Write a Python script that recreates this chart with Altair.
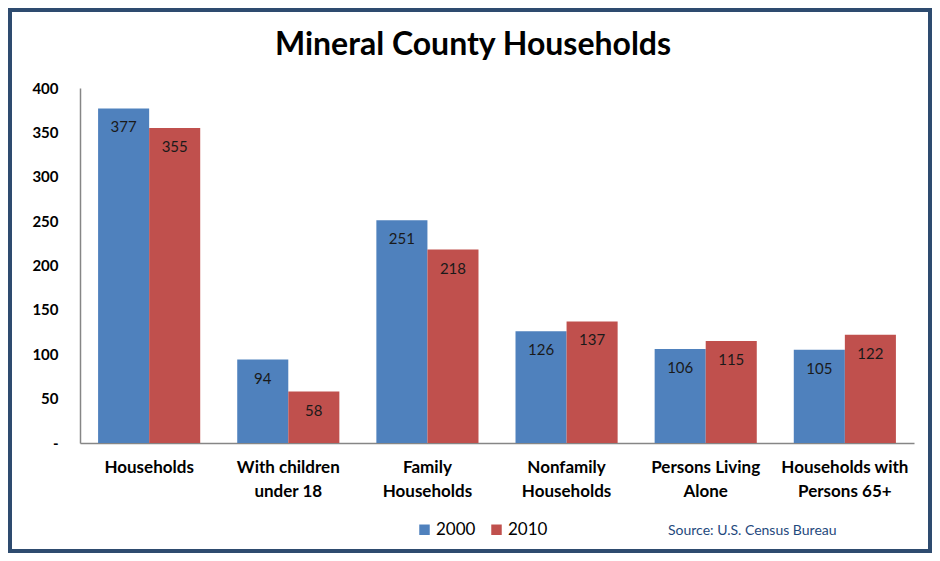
import altair as alt
import pandas as pd

categories = ["Households", "With children\nunder 18", "Family\nHouseholds",
              "Nonfamily\nHouseholds", "Persons Living\nAlone", "Households with\nPersons 65+"]
years = ["2000", "2010"]
v2000 = [377, 94, 251, 126, 106, 105]
v2010 = [355, 58, 218, 137, 115, 122]
colors = ["#4F81BD", "#C0504D"]
y_ticks = [0, 50, 100, 150, 200, 250, 300, 350, 400]
title_text = "Mineral County Households"
source_text = "Source: U.S. Census Bureau"

rows = []
for c, a, b in zip(categories, v2000, v2010):
    rows.append({"cat": c, "year": "2000", "value": a})
    rows.append({"cat": c, "year": "2010", "value": b})
df = pd.DataFrame(rows)

FONT = "Lato"
W, H = 834, 355
PL, PT, PR, PB = 72, 80, 18, 110

x_enc = alt.X("cat:N", sort=categories,
              scale=alt.Scale(paddingInner=0.266, paddingOuter=0.13),
              axis=alt.Axis(title=None, labelAngle=0, labelFontWeight="bold", labelFontSize=17,
                            labelFont=FONT, labelColor="#000000", ticks=False,
                            domainColor="#868686", domainWidth=1.5, labelPadding=16,
                            labelLineHeight=24, labelExpr="split(datum.label, '\\n')"))
xo_enc = alt.XOffset("year:N", sort=years, scale=alt.Scale(paddingInner=0, paddingOuter=0))
y_enc = alt.Y("value:Q", scale=alt.Scale(domain=[0, 400], nice=False),
              axis=alt.Axis(title=None, values=y_ticks, grid=False, ticks=False,
                            labelExpr="datum.value == 0 ? '-' : datum.label",
                            labelFontWeight="bold", labelFontSize=15, labelFont=FONT,
                            labelColor="#000000", labelPadding=22,
                            domainColor="#868686", domainWidth=1.5))

base = alt.Chart(df)
bars = base.mark_bar().encode(
    x=x_enc, xOffset=xo_enc, y=y_enc,
    color=alt.Color("year:N", sort=years, scale=alt.Scale(domain=years, range=colors),
                    legend=alt.Legend(orient="none", legendX=336, legendY=433,
                                      direction="horizontal", title=None,
                                      symbolType="square", symbolSize=110,
                                      symbolStrokeWidth=0, labelFontSize=17,
                                      labelFont=FONT, labelColor="#000000",
                                      labelOffset=3, columnPadding=12)),
)
labels = base.mark_text(dy=19, baseline="middle", fontSize=15, font=FONT,
                        color="#1a1a1a").encode(
    x=alt.X("cat:N", sort=categories), xOffset=alt.XOffset("year:N", sort=years),
    y="value:Q", text="value:Q")

one = pd.DataFrame({"t": [source_text], "title": [title_text]})
source = alt.Chart(one).mark_text(align="left", baseline="middle", fontSize=14, font=FONT,
                                  color="#1F497D").encode(
    x=alt.value(588), y=alt.value(443), text="t:N")
title = alt.Chart(one).mark_text(align="center", baseline="middle", fontSize=32, font=FONT,
                                 fontWeight="bold", color="#000000").encode(
    x=alt.value(393), y=alt.value(-43), text="title:N")
frame = alt.Chart(one).mark_rect(fill=None, stroke="#2E4B6F", strokeWidth=4).encode(
    x=alt.value(-PL + 2), x2=alt.value(W + PR - 2),
    y=alt.value(-PT + 2), y2=alt.value(H + PB - 2))

chart = alt.layer(bars, labels, source, title, frame).properties(
    width=W, height=H,
    padding={"left": PL, "top": PT, "right": PR, "bottom": PB},
    autosize=alt.AutoSizeParams(type="none"),
).configure_view(stroke=None)

chart.save("out.html", embed_options={"renderer": "svg", "actions": False})
